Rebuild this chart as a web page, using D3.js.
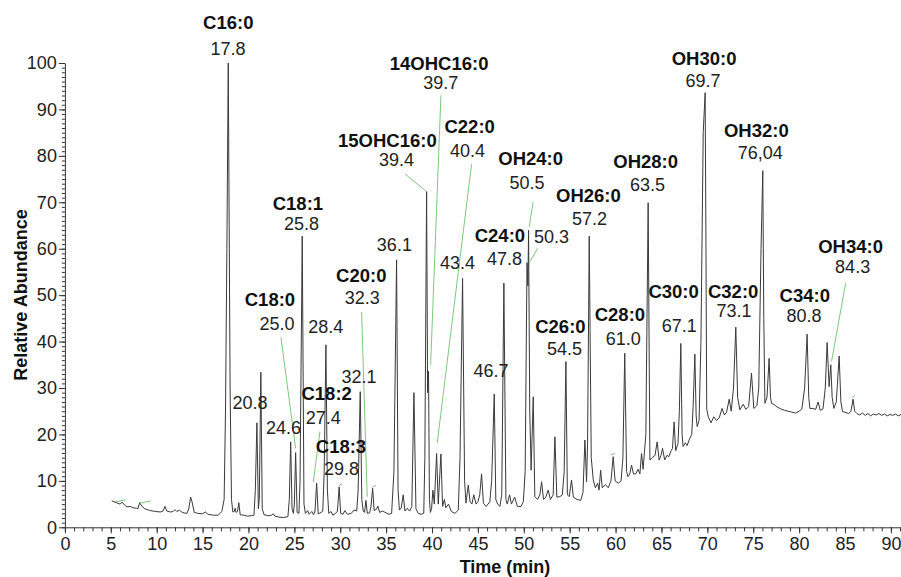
<!DOCTYPE html>
<html lang="en">
<head>
<meta charset="UTF-8"/>
<title>Chromatogram</title>
<style>
  body { margin: 0; background: #fff; }
  svg { display: block; font-family: Arial, "Liberation Sans", sans-serif; }
  .trace { fill: none; stroke: #3a3a3a; stroke-width: 1; stroke-linejoin: round; }
  .leader { stroke: #7cc97c; stroke-width: 1; }
  .axis path, .axis line { stroke: #333; }
  .axis text { font-size: 18px; fill: #222; }
  text.name { font-size: 18.5px; font-weight: bold; fill: #111; }
  text.rt { font-size: 18px; fill: #222; }
  text.label { font-size: 18px; font-weight: bold; fill: #111; }
</style>
</head>
<body>
<svg width="901" height="577"></svg>
<script src="https://d3js.org/d3.v7.min.js"></script>
<script>
// chromatogram trace: [time (min), relative abundance]
const trace = [
  [5.1,5.7],[5.6,5.3],[6.0,5.0],[6.25,5.4],[6.5,4.8],[6.75,4.4],[7.1,4.5],[7.45,4.2],[7.8,4.1],[7.95,4.0],
  [8.15,5.3],[8.4,4.5],[8.7,4.0],[9.3,3.6],[9.9,3.4],[10.4,3.3],[10.7,3.5],[10.9,4.5],[11.1,3.5],[11.5,3.3],
  [11.8,3.4],[12.0,3.8],[12.2,3.4],[12.5,3.7],[12.7,3.3],[13.0,3.1],[13.3,3.0],[13.5,4.0],[13.7,6.5],[13.85,5.5],
  [14.1,3.2],[14.5,3.0],[15.0,2.9],[15.3,3.3],[15.6,2.8],[16.2,2.6],[16.7,2.6],[17.1,3.4],[17.35,6],[17.5,25],
  [17.65,60],[17.8,100],[17.9,65],[18.0,30],[18.15,6],[18.3,3.3],[18.45,3.4],[18.55,4.1],[18.65,3.2],[18.8,3.4],
  [18.95,5.3],[19.1,2.7],[19.5,2.6],[19.9,2.4],[20.3,2.5],[20.6,2.6],[20.75,8],[20.92,22.5],[21.08,4],[21.18,6],
  [21.35,33.4],[21.5,4],[21.7,2.7],[22.2,2.5],[22.5,2.6],[22.7,2.9],[22.9,2.4],[23.3,2.2],[23.8,2.1],[24.3,2.3],
  [24.45,6],[24.6,18.4],[24.75,4],[24.9,3.0],[25.0,5],[25.14,16.1],[25.3,3.2],[25.5,3],[25.62,10],[25.86,62.7],
  [26.05,5],[26.2,3.0],[26.45,3.6],[26.6,2.8],[26.9,3.4],[27.1,2.7],[27.25,3.5],[27.43,9.5],[27.6,2.9],[27.9,3.2],
  [28.1,3.5],[28.25,12],[28.44,39.3],[28.6,8],[28.75,3],[29.0,3.4],[29.2,2.6],[29.5,3.0],[29.7,3.5],[29.88,8.7],
  [30.05,3.0],[30.3,2.8],[30.5,3.6],[30.8,2.8],[31.2,3.0],[31.5,3.7],[31.8,3.5],[31.95,8],[32.18,29.2],[32.35,6],
  [32.5,3.5],[32.65,3.2],[32.8,5.8],[32.95,3.0],[33.2,3.1],[33.35,4.5],[33.53,8.4],[33.7,3.6],[33.95,3.9],[34.1,4.6],
  [34.3,3.2],[34.6,3.5],[35.0,3.1],[35.3,2.8],[35.6,3.0],[35.85,12],[36.14,57.6],[36.3,8],[36.45,3.7],[36.65,4.2],
  [36.86,7.0],[37.05,3.5],[37.3,4.1],[37.55,3.5],[37.8,4.5],[38.03,29.0],[38.25,4],[38.5,3.0],[38.8,2.8],[39.1,3.0],
  [39.22,15],[39.41,72.3],[39.52,29],[39.62,33.6],[39.72,6],[39.82,3.2],[39.95,4],[40.1,8],[40.25,5],[40.5,15.9],
  [40.68,5],[40.97,15.8],[41.15,4.5],[41.35,6.0],[41.5,4.2],[41.8,5.0],[42.1,3.4],[42.5,3.0],[42.86,3.7],[43.05,15],
  [43.33,53.6],[43.55,10],[43.7,5.2],[43.95,9.1],[44.15,5.5],[44.35,5.0],[44.55,7.0],[44.8,5.0],[45.0,5.5],[45.2,7],
  [45.4,11.5],[45.6,5.2],[45.9,4.5],[46.3,5.5],[46.5,10],[46.78,28.7],[46.95,6],[47.15,5],[47.4,4.5],[47.6,7],
  [47.83,52.6],[48.05,6],[48.2,5],[48.45,7],[48.65,5],[49.0,6.5],[49.3,4.5],[49.7,4.5],[49.95,5.5],[50.15,12],
  [50.35,57],[50.45,52],[50.52,64],[50.65,25],[50.8,12.3],[51.03,28.1],[51.2,6.6],[51.5,6.0],[51.75,7.0],[51.94,9.8],
  [52.15,6.0],[52.4,6.5],[52.66,8.0],[52.9,6.0],[53.2,7],[53.39,19.5],[53.6,6.5],[53.93,6.6],[54.2,7.0],[54.4,12],
  [54.59,35.7],[54.75,7],[54.95,6.6],[55.2,10.2],[55.4,6.5],[55.8,6.0],[56.2,5.8],[56.45,7.5],[56.66,18.8],[56.84,9.8],
  [56.95,18],[57.13,62.7],[57.35,15],[57.57,10.2],[57.8,8.5],[58.05,9.5],[58.2,8.0],[58.37,12.3],[58.55,8.5],[58.9,9.2],
  [59.2,8.5],[59.5,10],[59.74,15.2],[59.95,10],[60.3,9.5],[60.6,10.0],[60.8,15],[61.0,37.5],[61.2,12],[61.35,10.9],
  [61.55,11.5],[61.74,13.4],[61.95,11.5],[62.2,11.5],[62.45,12.5],[62.65,11.5],[62.83,15.9],[63.0,12.5],[63.3,20],[63.55,69.9],
  [63.74,14.5],[64.0,15.0],[64.3,15.5],[64.53,18.4],[64.75,14.5],[64.95,15.5],[65.12,17],[65.35,14.5],[65.6,15.5],[65.8,15.2],
  [66.05,16.5],[66.2,17],[66.38,22.7],[66.55,16.5],[66.8,18],[66.95,25],[67.11,39.6],[67.25,20],[67.36,17.4],[67.6,18.2],
  [67.8,17.6],[68.05,19],[68.3,20],[68.45,26],[68.64,37.3],[68.78,24],[68.89,21.7],[69.1,23],[69.3,40],[69.55,85],
  [69.76,93.6],[69.85,60],[69.93,25.5],[70.1,23.8],[70.4,22.5],[70.7,23.8],[71.0,23.0],[71.3,23.6],[71.6,25.6],[71.85,24.2],
  [72.1,24.8],[72.38,27.6],[72.6,25],[72.85,30],[73.1,43.1],[73.3,28],[73.54,25.3],[73.9,26.5],[74.2,25.4],[74.5,26],
  [74.81,33.2],[75.06,25.6],[75.4,26.2],[75.6,30],[75.85,60],[76.04,76.8],[76.15,45],[76.27,26.7],[76.5,28],[76.73,36.4],
  [76.88,28],[77.0,26.7],[77.3,26.4],[77.6,25.9],[78.0,25.5],[78.4,25.2],[78.8,25.0],[79.2,24.8],[79.6,24.6],[80.0,25.0],
  [80.3,25.5],[80.6,30],[80.87,41.6],[81.05,28],[81.17,25.6],[81.5,25.6],[81.8,25.4],[82.07,27.0],[82.3,25.2],[82.6,25.5],
  [82.85,30],[83.05,39.8],[83.27,30.3],[83.45,35.0],[83.6,28],[83.78,25.6],[84.05,27],[84.36,36.9],[84.55,27],[84.73,24.9],
  [85.0,24.8],[85.4,24.5],[85.65,25],[85.88,27.6],[86.05,25],[86.3,24.5],[86.6,24.2],[86.9,24.6],[87.2,24.1],[87.5,24.5],
  [87.8,24.0],[88.1,24.4],[88.4,24.2],[88.7,24.5],[89.0,24.1],[89.3,24.4],[89.6,24.0],[89.9,24.3],[90.2,24.1],[90.5,24.4],
  [90.8,24.0],[91.1,24.3]
];

// peak annotations
const peakNames = ['C16:0','C18:0','','','C18:1','C18:2','','C18:3','','C20:0','','15OHC16:0','14OHC16:0','C22:0','',
  '','C24:0','','OH24:0','C26:0','OH26:0','C28:0','OH28:0','C30:0','OH30:0','C32:0','OH32:0','C34:0','OH34:0'];
const peakTimes = ['17.8','25.0','20.8','24.6','25.8','27.4','28.4','29.8','32.1','32.3','36.1','39.4','39.7','40.4','43.4',
  '46.7','47.8','50.3','50.5','54.5','57.2','61.0','63.5','67.1','69.7','73.1','76,04','80.8','84.3'];

// where each label sits, in data units: [name t, name A, time t, time A]
const labelAt = [
  [17.80,107.3,17.77,101.7],[22.34,47.7,23.10,42.5],[0,0,20.16,25.5],[0,0,23.81,20.0],[25.39,68.3,25.77,64.0],
  [28.52,27.4,28.15,22.2],[0,0,28.42,41.8],[30.08,15.9,30.15,11.3],[0,0,32.04,31.0],[32.29,52.9,32.39,48.2],
  [0,0,35.90,59.6],[35.14,82.0,36.12,77.9],[40.77,98.6,40.95,94.3],[44.10,84.9,43.86,79.8],[0,0,42.77,55.6],
  [0,0,46.42,32.4],[47.40,61.5,47.91,56.5],[0,0,53.03,61.2],[50.75,78.0,50.36,72.8],[53.99,41.8,54.45,37.1],
  [57.04,70.1,57.15,65.1],[60.47,44.5,60.83,39.3],[63.28,77.3,63.49,72.4],[66.32,49.3,66.95,42.1],[69.64,99.6,69.54,94.8],
  [72.81,49.3,72.91,45.4],[75.34,84.1,75.77,79.3],[80.62,48.6,80.54,44.3],[85.61,59.0,85.83,54.8]
];

// green leader lines: [t1, A1, t2, A2]
const leaders = [
  [23.54,40.9,25.14,17.0],[27.79,20.6,27.06,9.8],[32.33,46.4,32.94,6.6],[37.05,76.1,39.30,72.5],
  [40.97,93.0,39.85,35.0],[44.31,78.2,40.57,18.2],[51.02,70.1,50.59,64.7],[51.50,60.1,50.66,57.2],
  [85.08,52.7,83.53,35.7],[5.46,5.5,6.62,5.9],[8.18,5.2,9.35,5.7],[29.85,8.9,30.2,9.4],[33.5,8.6,33.9,9.1],
  [59.5,15.6,59.95,15.9],[85.75,27.9,86.05,28.4]
];

const xTicks = [0,5,10,15,20,25,30,35,40,45,50,55,60,65,70,75,80,85,90];
const yTicks = [0,10,20,30,40,50,60,70,80,90,100];

const svg = d3.select('svg');
const x = d3.scaleLinear().domain([0, 91.1]).range([64.9, 901]);
const y = d3.scaleLinear().domain([0, 100]).range([527.3, 63]);

// minor ticks first, then major axes on top
svg.append('g')
  .attr('class', 'axis')
  .attr('transform', `translate(0, ${y(0)})`)
  .call(d3.axisBottom(x).tickValues(d3.range(0, 92, 1)).tickSize(4).tickSizeOuter(0).tickFormat(''))
  .select('.domain').remove();
svg.append('g')
  .attr('class', 'axis')
  .attr('transform', `translate(${x(0)}, 0)`)
  .call(d3.axisLeft(y).tickValues(d3.range(0, 101, 1)).tickSize(3).tickSizeOuter(0).tickFormat(''))
  .select('.domain').remove();

svg.append('g')
  .attr('class', 'axis')
  .attr('transform', `translate(0, ${y(0)})`)
  .call(d3.axisBottom(x).tickValues(xTicks).tickSize(6).tickSizeOuter(0).tickPadding(4));
svg.append('g')
  .attr('class', 'axis')
  .attr('transform', `translate(${x(0)}, 0)`)
  .call(d3.axisLeft(y).tickValues(yTicks).tickSize(6).tickSizeOuter(0).tickPadding(2));

svg.append('path')
  .datum(trace)
  .attr('class', 'trace')
  .attr('d', d3.line().x(d => x(d[0])).y(d => y(d[1])));

svg.selectAll('line.leader')
  .data(leaders)
  .join('line')
  .attr('class', 'leader')
  .attr('x1', d => x(d[0]))
  .attr('y1', d => y(d[1]))
  .attr('x2', d => x(d[2]))
  .attr('y2', d => y(d[3]));

const labels = svg.append('g').selectAll('g')
  .data(peakTimes.map((t, i) => ({ name: peakNames[i], time: t, at: labelAt[i] })))
  .join('g');
labels.filter(d => d.name !== '')
  .append('text')
  .attr('class', 'name')
  .attr('text-anchor', 'middle')
  .attr('x', d => x(d.at[0]))
  .attr('y', d => y(d.at[1]))
  .text(d => d.name);
labels.append('text')
  .attr('class', 'rt')
  .attr('text-anchor', 'middle')
  .attr('x', d => x(d.at[2]))
  .attr('y', d => y(d.at[3]))
  .text(d => d.time);

svg.append('text')
  .attr('class', 'label')
  .attr('text-anchor', 'middle')
  .attr('transform', 'translate(27, 295) rotate(-90)')
  .text('Relative Abundance');
svg.append('text')
  .attr('class', 'label')
  .attr('text-anchor', 'middle')
  .attr('x', 505)
  .attr('y', 573)
  .text('Time (min)');
</script>
</body>
</html>
